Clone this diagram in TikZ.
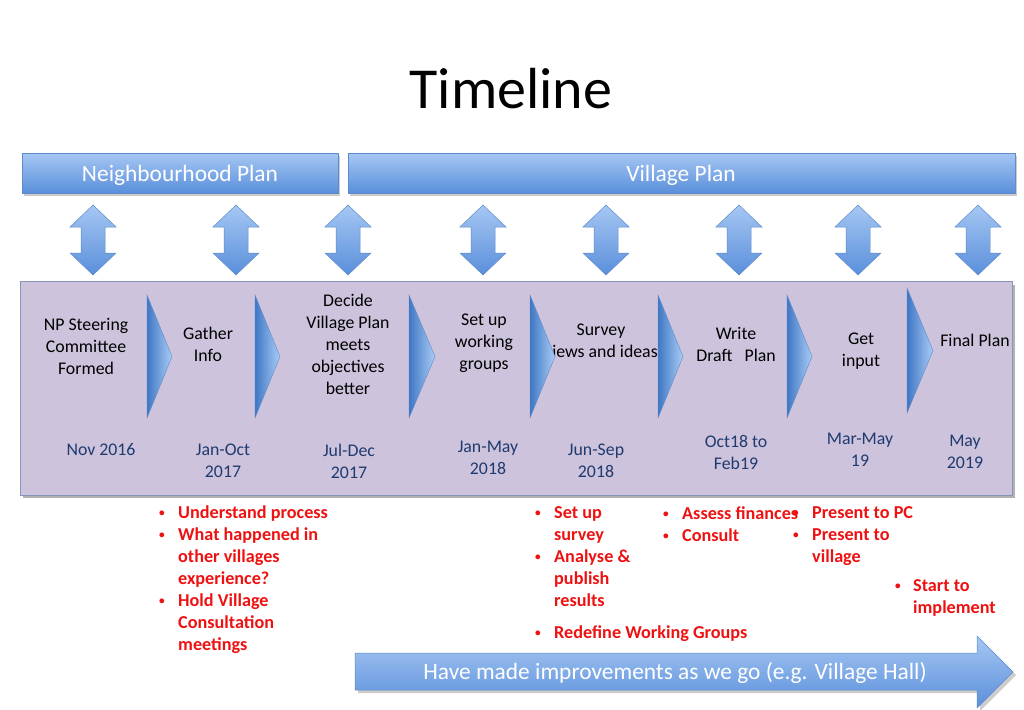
\documentclass[tikz,border=0pt]{standalone}
\usepackage{fontspec}
\setmainfont{Carlito}
\definecolor{hdrtop}{HTML}{A6C7F3}
\definecolor{hdrbot}{HTML}{5A8FDB}
\definecolor{hdrline}{HTML}{5E8BC9}
\definecolor{lav}{HTML}{CDC3DC}
\definecolor{lavline}{HTML}{8497B8}
\definecolor{navy}{HTML}{1F3A6E}
\definecolor{bred}{HTML}{EE1111}
\definecolor{chdark}{HTML}{3F77C4}
\definecolor{chlight}{HTML}{AACCF6}
\newcommand{\smallbul}{\raisebox{1.5pt}{\scalebox{0.62}{\textbullet}}}
\begin{document}
\begin{tikzpicture}[x=1pt,y=-1pt,
  hdr/.style={draw=hdrline, line width=0.6pt, top color=hdrtop, bottom color=hdrbot,
    text=white, font=\fontsize{23.4}{26}\selectfont, inner sep=0pt},
  dblarr/.style={draw=hdrline, line width=0.5pt, top color=hdrtop, bottom color=hdrbot},
  chev/.style={draw=hdrline, line width=0.4pt, left color=chdark, right color=chlight},
  proc/.style={align=center, font=\fontsize{17.8}{22}\selectfont, inner sep=0pt},
  date/.style={proc, text=navy},
  rtxt/.style={text=bred, font=\bfseries\fontsize{18.2}{20}\selectfont, anchor=base west, inner sep=0pt},
  dbl/.pic={\path[dblarr] (0,0) -- (23,22) -- (12,22) -- (12,48) -- (23,48) -- (0,70)
     -- (-23,48) -- (-12,48) -- (-12,22) -- (-23,22) -- cycle;}
]
\useasboundingbox (0,0) rectangle (1024,709);

% title
\node[font=\fontsize{58}{62}\selectfont, inner sep=0pt] (title) at (511,89) {Timeline};

% header boxes
\fill[black!20] (24,156) rectangle (340,196);
\fill[black!20] (350,156) rectangle (1017,196);
\node[hdr, minimum width=316pt, minimum height=40pt] (np) at (180,173) {};
\node[hdr, minimum width=667pt, minimum height=40pt] (vp) at (681.5,173) {};
\node[text=white, font=\fontsize{23.4}{26}\selectfont, inner sep=0pt] (npt) at (180,175) {Neighbourhood Plan};
\node[text=white, font=\fontsize{23.4}{26}\selectfont, inner sep=0pt] (vpt) at (681,175) {Village Plan};

% double arrows
\foreach \x/\n in {93/1,236/2,348/3,483/4,606/5,739/6,858/7,978/8}
  \pic (da\n) at (\x,205) {dbl};

% process box
\fill[black!30] (23,285) rectangle (1015,498);
\node[draw=lavline, line width=1pt, fill=lav, minimum width=992pt, minimum height=214pt, inner sep=0pt] (box) at (516,388) {};

% process texts
\node[proc] (s1) at (86,346) {NP Steering\\Committee\\Formed};
\node[proc] (s2) at (208,344) {Gather\\Info};
\node[proc] (s3) at (348,344) {Decide\\Village Plan\\meets\\objectives\\better};
\node[proc] (s4) at (484,343) {Set up\\working\\groups};
\node[proc] (s5) at (601,341) {Survey\\views and ideas};
\node[proc] (s6) at (736,344) {Write\\Draft\ \ \ Plan};
\node[proc] (s7) at (861,351) {Get\\input};
\node[proc] (s8) at (975,340) {Final Plan};

% dates
\node[date] (d1) at (101,450) {Nov 2016};
\node[date] (d2) at (223,461) {Jan-Oct\\2017};
\node[date] (d3) at (349,461) {Jul-Dec\\2017};
\node[date] (d4) at (488,458) {Jan-May\\2018};
\node[date] (d5) at (596,461) {Jun-Sep\\2018};
\node[date] (d6) at (736,452) {Oct18 to\\Feb19};
\node[date] (d7) at (860,450) {Mar-May\\19};
\node[date] (d8) at (965,452) {May\\2019};

% chevrons
\foreach \xl/\yt/\yb/\xa in {147/295/418/172, 255/295/418/280, 409/295/418/435,
   530/295/418/555, 658/295/418/683, 787/295/418/812, 907/288/413/933}
  \path[chev] (\xl,\yt) -- (\xa,{(\yt+\yb)/2}) -- (\xl,\yb) -- cycle;

% red bullets, group 1
\foreach \y in {518,540,606} \node[rtxt] at (159,\y) {\smallbul};
\node[rtxt] (r1a) at (178,518) {Understand process};
\node[rtxt] (r1b) at (178,540) {What happened in};
\node[rtxt] (r1c) at (178,562) {other villages};
\node[rtxt] (r1d) at (178,584) {experience?};
\node[rtxt] (r1e) at (178,606) {Hold Village};
\node[rtxt] (r1f) at (178,628) {Consultation};
\node[rtxt] (r1g) at (178,650) {meetings};

% group 2
\foreach \y in {518,562,638} \node[rtxt] at (535,\y) {\smallbul};
\node[rtxt] (r2a) at (554,518) {Set up};
\node[rtxt] (r2b) at (554,540) {survey};
\node[rtxt] (r2c) at (554,562) {Analyse \&};
\node[rtxt] (r2d) at (554,584) {publish};
\node[rtxt] (r2e) at (554,606) {results};
\node[rtxt] (r2f) at (554,638) {Redefine Working Groups};

% group 4 bullets (drawn before group 3 text)
\foreach \y in {518,540} \node[rtxt] at (793,\y) {\smallbul};
\node[rtxt] (r4a) at (812,518) {Present to PC};
\node[rtxt] (r4b) at (812,540) {Present to};
\node[rtxt] (r4c) at (812,562) {village};

% group 3
\foreach \y in {519,541} \node[rtxt] at (663,\y) {\smallbul};
\node[rtxt] (r3a) at (682,519) {Assess finances};
\node[rtxt] (r3b) at (682,541) {Consult};

% group 5
\node[rtxt] at (895,591) {\smallbul};
\node[rtxt] (r5a) at (913,591) {Start to};
\node[rtxt] (r5b) at (913,613) {implement};

% bottom arrow
\fill[black!20] (358,656) -- (980,656) -- (980,639) -- (1016,675) -- (980,711) -- (980,693) -- (358,693) -- cycle;
\path[dblarr] (355,653) -- (977,653) -- (977,636) -- (1013,672) -- (977,708) -- (977,690) -- (355,690) -- cycle;
\node[text=white, font=\fontsize{23.4}{26}\selectfont, inner sep=0pt] (imp) at (675,673) {Have made improvements as we go (e.g. Village Hall)};
\end{tikzpicture}
\end{document}
